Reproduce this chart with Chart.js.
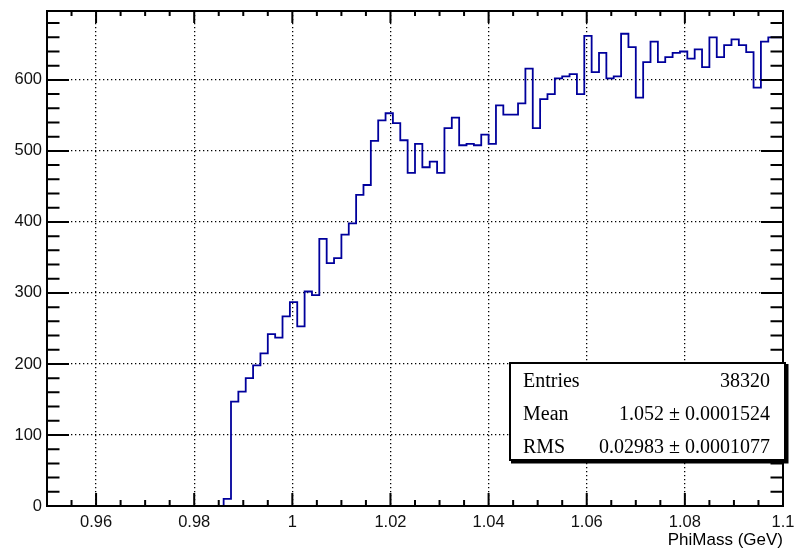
<!DOCTYPE html>
<html>
<head>
<meta charset="utf-8">
<script src="https://cdn.jsdelivr.net/npm/chart.js@4.4.0/dist/chart.umd.min.js"></script>
<style>
  html, body { margin: 0; padding: 0; background: #fff; }
  canvas { display: block; }
</style>
</head>
<body>
<canvas id="chart" width="797" height="548"></canvas>
<script>
// histogram binning: 100 bins from 0.95 to 1.1
const binLow = 0.95;
const binWidth = 0.0015;
const counts = [
  0, 0, 0, 0, 0, 0, 0, 0, 0, 0,
  0, 0, 0, 0, 0, 0, 0, 0, 0, 0,
  0, 0, 0, 0, 10, 147, 161, 180, 198, 215,
  242, 237, 267, 287, 253, 302, 297, 376, 342, 349,
  382, 398, 438, 452, 514, 543, 553, 539, 515, 469,
  510, 477, 485, 469, 532, 547, 508, 510, 508, 523,
  510, 564, 551, 551, 567, 616, 532, 573, 580, 602,
  605, 608, 580, 662, 611, 638, 602, 605, 665, 646,
  575, 625, 654, 625, 632, 638, 640, 630, 643, 618,
  660, 632, 649, 657, 649, 639, 589, 654, 660, 660
];

const xTickValues = [0.96, 0.98, 1, 1.02, 1.04, 1.06, 1.08, 1.1];
const yTickValues = [0, 100, 200, 300, 400, 500, 600];

const statNames = ["Entries", "Mean", "RMS"];
const statValues = ["38320", "1.052 \u00b1 0.0001524", "0.02983 \u00b1 0.0001077"];
const axisTitle = "PhiMass (GeV)";

// left edge of every bin, plus a closing point at the upper edge
const points = counts.map((c, i) => ({ x: binLow + i * binWidth, y: c }));
points.push({ x: binLow + counts.length * binWidth, y: counts[counts.length - 1] });

// frame, inward ticks on all four sides, stats box and axis title
const rootFrame = {
  id: "rootFrame",
  afterDraw(chart) {
    const { ctx, chartArea: a, scales: { x, y } } = chart;
    ctx.save();
    ctx.strokeStyle = "#000";
    ctx.lineWidth = 2;
    ctx.strokeRect(a.left, a.top, a.right - a.left, a.bottom - a.top);

    ctx.beginPath();
    for (let i = 1; binLow + i * 0.005 < x.max - 1e-9; i++) {
      const v = binLow + i * 0.005;
      const major = Math.abs(v * 50 - Math.round(v * 50)) < 1e-6;
      const px = x.getPixelForValue(v);
      ctx.moveTo(px, a.bottom); ctx.lineTo(px, a.bottom - (major ? 13 : 6));
      ctx.moveTo(px, a.top); ctx.lineTo(px, a.top + (major ? 12 : 5));
    }
    for (let v = 20; v < y.max; v += 20) {
      const major = v % 100 === 0;
      const py = y.getPixelForValue(v);
      ctx.moveTo(a.left, py); ctx.lineTo(a.left + (major ? 22 : 12.5), py);
      ctx.moveTo(a.right, py); ctx.lineTo(a.right - (major ? 22 : 12.5), py);
    }
    ctx.stroke();

    // stats box with shadow
    const bx = 510, by = 363, bw = 275, bh = 97;
    ctx.fillStyle = "#000";
    ctx.fillRect(bx + 1, by + 1, bw + 2.5, bh + 2.5);
    ctx.fillStyle = "#fff";
    ctx.fillRect(bx, by, bw, bh);
    ctx.lineWidth = 2;
    ctx.strokeRect(bx, by, bw, bh);

    ctx.fillStyle = "#000";
    ctx.font = "20px 'Liberation Serif'";
    ctx.textBaseline = "alphabetic";
    statNames.forEach((name, i) => {
      const ty = 387 + i * 33;
      ctx.textAlign = "left";
      ctx.fillText(name, 523, ty);
      ctx.textAlign = "right";
      ctx.fillText(statValues[i], 770, ty);
    });

    ctx.font = "17px 'Liberation Sans'";
    ctx.textAlign = "right";
    ctx.fillText(axisTitle, 783, 545);
    ctx.restore();
  }
};

const ctx = document.getElementById("chart").getContext("2d");
new Chart(ctx, {
  type: "line",
  data: {
    datasets: [{
      data: points,
      stepped: "before",
      borderColor: "#00009c",
      borderWidth: 1.8,
      pointRadius: 0,
      fill: false
    }]
  },
  options: {
    responsive: false,
    animation: false,
    layout: { padding: { left: 0, top: 11, right: 14, bottom: 0 } },
    plugins: { legend: { display: false }, tooltip: { enabled: false } },
    scales: {
      x: {
        type: "linear",
        min: 0.95,
        max: 1.1,
        afterBuildTicks: (axis) => { axis.ticks = xTickValues.map(v => ({ value: v })); },
        afterFit: (axis) => { axis.height = 42; axis.paddingLeft = 0; axis.paddingRight = 0; },
        ticks: {
          autoSkip: false,
          maxRotation: 0,
          padding: 7,
          color: "#111",
          font: { family: "'Liberation Sans'", size: 16.5 },
          callback: (v) => String(Number(v.toFixed(2)))
        },
        grid: {
          drawTicks: false,
          lineWidth: 1.3,
          color: (c) => (c.tick && (c.tick.value <= 0.95 || c.tick.value >= 1.1)) ? "rgba(0,0,0,0)" : "#000"
        },
        border: { display: false, dash: [1.3, 2.7] }
      },
      y: {
        min: 0,
        max: 697,
        afterBuildTicks: (axis) => { axis.ticks = yTickValues.map(v => ({ value: v })); },
        afterFit: (axis) => { axis.width = 47; axis.paddingTop = 0; axis.paddingBottom = 0; },
        ticks: {
          padding: 5,
          color: "#111",
          font: { family: "'Liberation Sans'", size: 16.5 }
        },
        grid: {
          drawTicks: false,
          lineWidth: 1.3,
          color: (c) => (c.tick && c.tick.value === 0) ? "rgba(0,0,0,0)" : "#000"
        },
        border: { display: false, dash: [1.3, 2.7] }
      }
    }
  },
  plugins: [rootFrame]
});
</script>
</body>
</html>
